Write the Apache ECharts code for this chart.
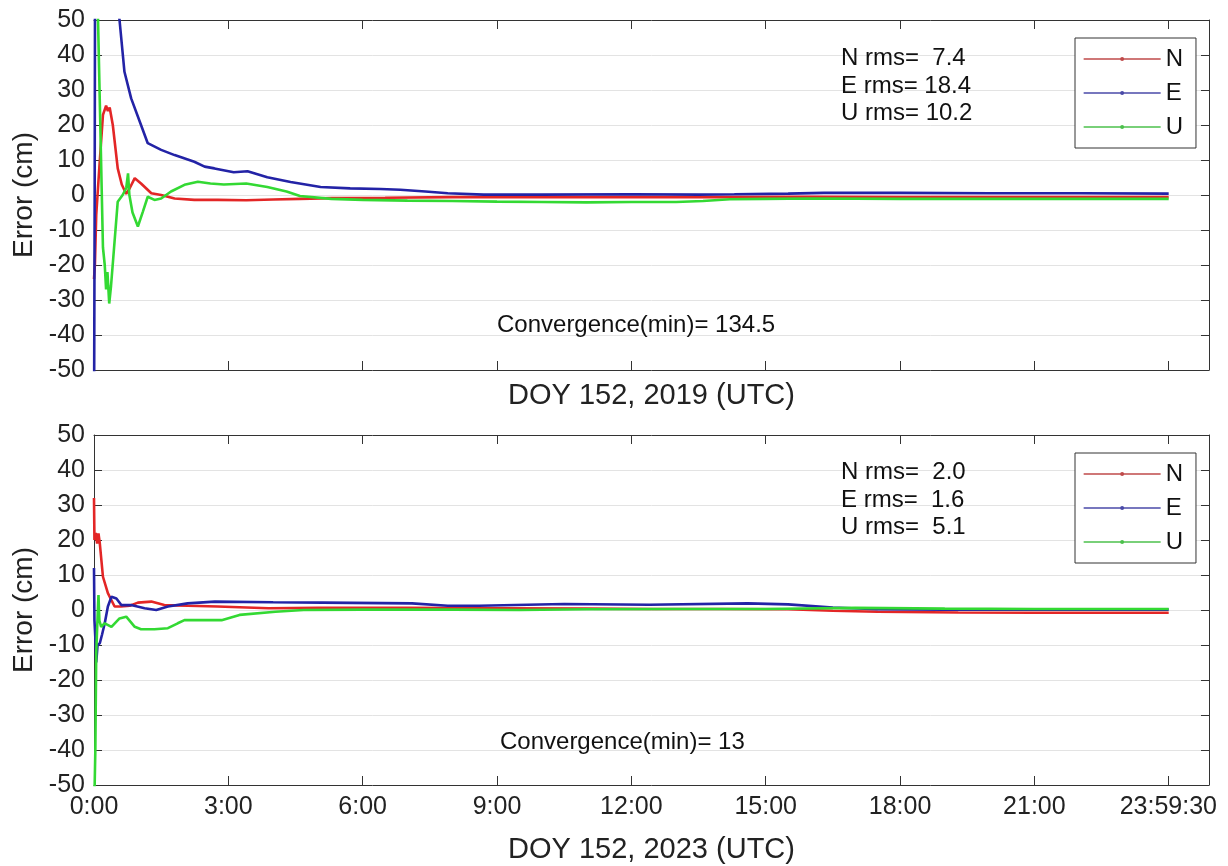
<!DOCTYPE html>
<html>
<head>
<meta charset="utf-8">
<script src="https://cdn.jsdelivr.net/npm/echarts@6/dist/echarts.min.js"></script>
<style>
html,body{margin:0;padding:0;background:#fff;}
#chart{width:1228px;height:866px;}
</style>
</head>
<body>
<div id="chart"></div>
<script>
// ---------- tick labels ----------
const tickVals = [0, 3, 6, 9, 12, 15, 18, 21, 23.991667];
const tickLabels = ['0:00', '3:00', '6:00', '9:00', '12:00', '15:00', '18:00', '21:00', '23:59:30'];
const seriesNames = ['N', 'E', 'U'];
const panelTitles = ['DOY 152, 2019 (UTC)', 'DOY 152, 2023 (UTC)'];
const rmsTop = [7.4, 18.4, 10.2];
const rmsBottom = [2.0, 1.6, 5.1];
const convergence = ['134.5', '13'];

// ---------- top panel (2019), time in hours ----------
const topNt = [0, 0.02, 0.05, 0.12, 0.2, 0.27, 0.31, 0.35, 0.42, 0.53, 0.62, 0.72, 0.8, 0.91, 1.05, 1.28, 1.5, 1.8, 2.24, 2.76, 3.4, 4.0, 4.6, 5.3, 6.5, 8, 10, 12, 14, 16, 18, 20, 22, 24];
const topNv = [-24, -20, -5.7, 8, 22.9, 25.5, 24.0, 25.0, 20, 7.6, 3, 0.3, 2, 4.8, 3.3, 0.5, 0, -1, -1.4, -1.4, -1.5, -1.3, -1.1, -0.9, -0.8, -0.6, -0.6, -0.6, -0.6, -0.5, -0.6, -0.6, -0.6, -0.6];
const topEt = [0, 0.015, 0.03, 0.3, 0.57, 0.68, 0.83, 1.05, 1.2, 1.5, 1.8, 2.24, 2.47, 2.69, 3.12, 3.43, 3.87, 4.39, 5.06, 5.72, 6.4, 6.84, 7.4, 7.9, 8.7, 10, 12, 13.5, 14.3, 15.5, 16.3, 18, 20, 22, 24];
const topEv = [-70, 0, 110, 75, 50, 35.2, 27.6, 20, 14.8, 12.9, 11.4, 9.5, 8.1, 7.6, 6.5, 6.8, 5.1, 3.7, 2.3, 1.9, 1.7, 1.5, 1.0, 0.5, 0.1, 0.1, 0.2, 0.1, 0.2, 0.4, 0.6, 0.6, 0.5, 0.5, 0.4];
const topUt = [0, 0.09, 0.2, 0.24, 0.27, 0.3, 0.34, 0.38, 0.43, 0.53, 0.64, 0.72, 0.76, 0.79, 0.86, 0.98, 1.09, 1.2, 1.35, 1.5, 1.72, 2.02, 2.32, 2.6, 2.9, 3.4, 3.87, 4.3, 4.6, 5.3, 6, 7, 8, 9, 10, 11, 12, 13, 13.6, 14.2, 15, 16, 18, 20, 22, 24];
const topUv = [90, 50, -15, -20, -27, -22, -31, -26, -18, -1.9, 0, 2, 6.2, 0, -5, -9, -4.8, -0.5, -1.4, -1.0, 1.0, 2.9, 3.8, 3.3, 3.0, 3.3, 2.3, 1.0, -0.3, -1.1, -1.4, -1.6, -1.7, -1.9, -2.0, -2.1, -2.0, -2.0, -1.7, -1.2, -1.1, -1.0, -1.1, -1.1, -1.1, -1.1];

// ---------- bottom panel (2023) ----------
const botNt = [0, 0.01, 0.04, 0.07, 0.1, 0.13, 0.2, 0.31, 0.46, 0.6, 0.8, 0.98, 1.28, 1.57, 2.1, 2.76, 3.9, 5, 7, 9, 11, 12.5, 14, 15.5, 16.5, 17.5, 19.3, 21, 22.5, 24];
const botNv = [32, 20, 22, 19, 21.9, 19, 9.5, 4.8, 1, 1, 1.2, 2.1, 2.4, 1.4, 1.2, 1.0, 0.5, 0.6, 0.6, 0.5, 0.4, 0.3, 0.3, 0.2, -0.2, -0.5, -0.7, -0.8, -0.8, -0.8];
const botEt = [0, 0.01, 0.03, 0.05, 0.08, 0.13, 0.18, 0.24, 0.31, 0.39, 0.5, 0.61, 0.83, 1.13, 1.39, 1.65, 2.09, 2.7, 4, 5.1, 7.1, 7.9, 8.6, 10.5, 12.4, 14.6, 15.5, 16.5, 17.5, 19, 21, 24];
const botEv = [12, -3, -8, -15, -10, -9.5, -7, -3.8, 1, 3.8, 3.3, 1.4, 1.4, 0.5, 0, 1.0, 1.9, 2.4, 2.2, 2.1, 1.9, 1.2, 1.2, 1.7, 1.5, 1.9, 1.6, 0.7, 0.2, 0.1, 0.1, 0.1];
const botUt = [0, 0.03, 0.05, 0.08, 0.1, 0.12, 0.16, 0.24, 0.39, 0.57, 0.72, 0.91, 1.05, 1.35, 1.65, 1.87, 2.02, 2.85, 3.25, 4.05, 4.68, 6, 8, 9.5, 11, 13, 15, 17, 19, 21, 24];
const botUv = [-60, -40, -12, -2, 4.3, -3, -4.8, -3.8, -4.8, -2.4, -1.9, -4.8, -5.5, -5.5, -5.2, -3.8, -2.9, -2.9, -1.4, -0.5, 0, 0.1, 0.1, 0, 0.2, 0.3, 0.3, 0.6, 0.4, 0.3, 0.3];

// ---------- styling ----------
const FONT = '"Liberation Sans", Arial, Helvetica, sans-serif';
const lineColors = ['#e32626', '#2323a6', '#33d933'];
const legendColors = ['#bf4a4a', '#4a4aa8', '#4cc04c'];
const axisColor = '#333333';

function pairs(t, v) { return t.map((x, i) => [x, v[i]]); }
function fmtTick(val) {
  for (let i = 0; i < tickVals.length; i++) {
    if (Math.abs(val - tickVals[i]) < 0.05) return tickLabels[i];
  }
  return '';
}
function fmtRms(v) { return v.toFixed(1).padStart(4, ' '); }

const grids = [
  { left: 94, top: 20, width: 1115, height: 350 },
  { left: 94, top: 435, width: 1115, height: 350 }
];

const xAxes = [];
const yAxes = [];
[0, 1].forEach(g => {
  const base = {
    gridIndex: g, type: 'value', min: 0, max: 24.9,
    axisLine: { show: true, onZero: false, lineStyle: { color: axisColor, width: 1 } },
    axisTick: { show: true, inside: true, length: 9, customValues: tickVals, lineStyle: { color: axisColor } },
    splitLine: { show: false }
  };
  xAxes.push(Object.assign({}, base, {
    position: 'bottom',
    axisLabel: {
      show: g === 1, customValues: tickVals, formatter: fmtTick, margin: 10,
      fontSize: 25, fontFamily: FONT, color: '#222'
    },
    name: panelTitles[g], nameLocation: 'middle', nameGap: g === 0 ? 11 : 50,
    nameTextStyle: { fontSize: 29, fontFamily: FONT, color: '#222' }
  }));
  xAxes.push(Object.assign({}, base, {
    position: 'top', axisLabel: { show: false }
  }));
  const ybase = {
    gridIndex: g, type: 'value', min: -50, max: 50, interval: 10,
    axisLine: { show: true, onZero: false, lineStyle: { color: axisColor, width: 1 } },
    axisTick: { show: true, inside: true, length: 8, lineStyle: { color: axisColor } }
  };
  yAxes.push(Object.assign({}, ybase, {
    position: 'left',
    axisLabel: { show: true, margin: 9, fontSize: 25, fontFamily: FONT, color: '#222' },
    splitLine: { show: true, lineStyle: { color: '#e3e3e3', width: 1 } },
    name: 'Error (cm)', nameLocation: 'middle', nameGap: 55,
    nameTextStyle: { fontSize: 28, fontFamily: FONT, color: '#222' }
  }));
  yAxes.push(Object.assign({}, ybase, {
    position: 'right', axisLabel: { show: false }, splitLine: { show: false }
  }));
});

const panelData = [
  [pairs(topNt, topNv), pairs(topEt, topEv), pairs(topUt, topUv)],
  [pairs(botNt, botNv), pairs(botEt, botEv), pairs(botUt, botUv)]
];
const series = [];
[0, 1].forEach(g => {
  seriesNames.forEach((name, k) => {
    series.push({
      name: name, type: 'line', xAxisIndex: g * 2, yAxisIndex: g * 2,
      data: panelData[g][k], symbol: 'circle', showSymbol: false,
      clip: true, smooth: false,
      lineStyle: { color: lineColors[k], width: 2.6 },
      itemStyle: { color: lineColors[k] },
      emphasis: { disabled: true }
    });
  });
});

const legendData = seriesNames.map((n, k) => ({
  name: n,
  itemStyle: { color: legendColors[k] },
  lineStyle: { color: legendColors[k], width: 1.3 }
}));
const legends = [38, 453].map(top => ({
  left: 1075, top: top, orient: 'vertical', data: legendData,
  padding: [9, 13, 9, 8], itemGap: 10, itemWidth: 77, itemHeight: 5,
  borderColor: '#333', borderWidth: 1, backgroundColor: '#fff',
  selectedMode: false,
  textStyle: { fontSize: 24, fontFamily: FONT, color: '#111' }
}));

function txt(x, y, s) {
  return {
    type: 'text', x: x, y: y, z: 100,
    style: { text: s, font: '24px ' + FONT, fill: '#111', verticalAlign: 'middle', align: 'left' }
  };
}
const graphic = [];
const rmsRowsTop = [58, 86, 113];
const rmsRowsBot = [472, 500, 527];
seriesNames.forEach((n, k) => {
  graphic.push(txt(841, rmsRowsTop[k], n + ' rms= ' + fmtRms(rmsTop[k])));
  graphic.push(txt(841, rmsRowsBot[k], n + ' rms= ' + fmtRms(rmsBottom[k])));
});
graphic.push(txt(497, 325, 'Convergence(min)= ' + convergence[0]));
graphic.push(txt(500, 742, 'Convergence(min)= ' + convergence[1]));

const chart = echarts.init(document.getElementById('chart'), null, { renderer: 'canvas' });
chart.setOption({
  animation: false,
  backgroundColor: '#ffffff',
  textStyle: { fontFamily: FONT },
  grid: grids,
  xAxis: xAxes,
  yAxis: yAxes,
  legend: legends,
  series: series,
  graphic: graphic
});
</script>
</body>
</html>
